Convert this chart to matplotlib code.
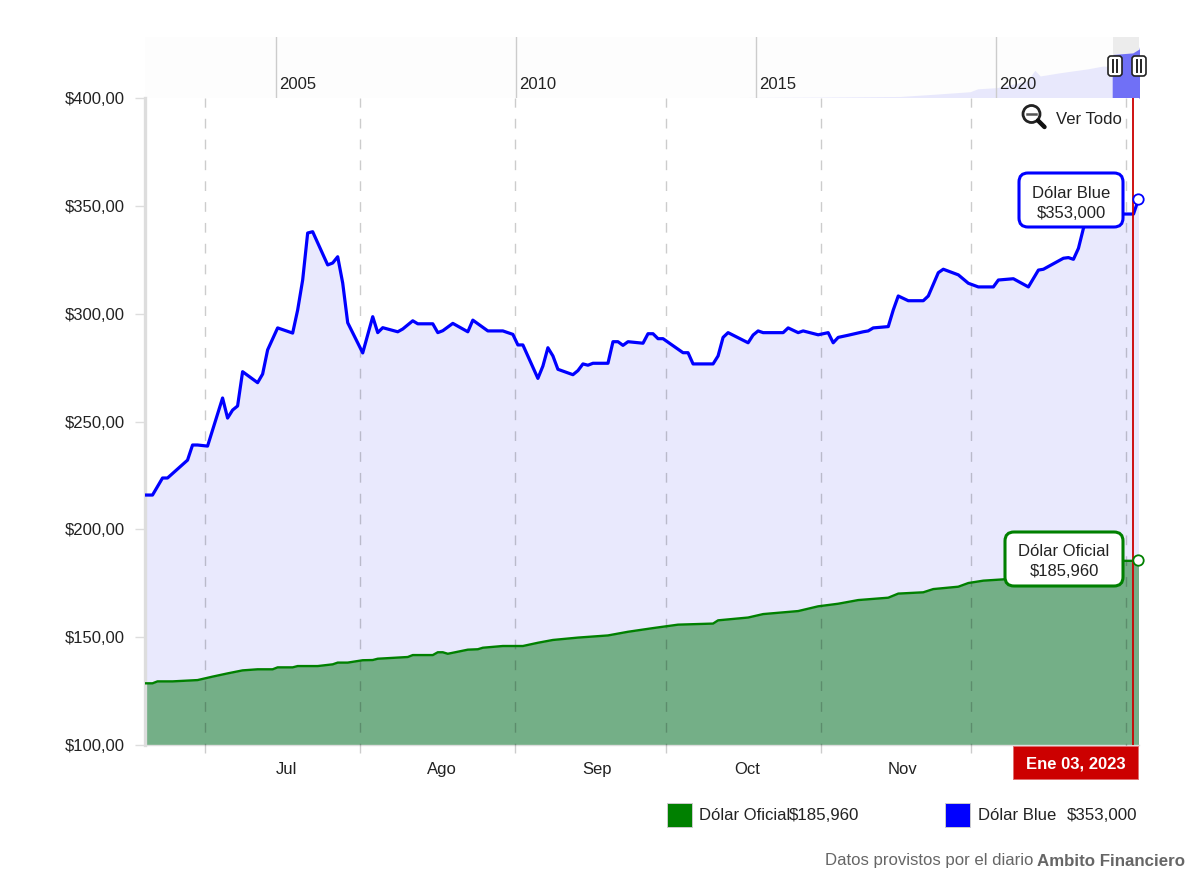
import matplotlib
matplotlib.use("Agg")
import matplotlib.pyplot as plt
import pandas as pd
from matplotlib.patches import FancyBboxPatch, Rectangle, Circle
from matplotlib.transforms import blended_transform_factory

plt.rcParams['font.family'] = ['Liberation Sans', 'DejaVu Sans']

START = pd.Timestamp('2022-06-19')
END_DAYS = 198.6

blue_days = [-0.5,1,3,4,8,9,10,12,15,16,17,18,19,22,23,24,26,29,30,31,32,33,36,37,38,39,40,43,45,46,47,50,51,53,54,56,57,58,59,61,64,65,68,71,73,74,75,78,79,80,81,82,85,86,87,88,89,92,93,94,95,96,99,100,101,102,103,107,108,109,113,114,115,116,120,121,122,123,127,128,130,131,134,136,137,138,140,143,144,145,148,149,150,152,155,156,158,159,162,164,166,169,170,173,176,178,179,183,184,185,186,187,188,190,195,197,198]
blue_values = [215.9,215.9,223.8,223.8,232.1,239.1,239.1,238.6,260.9,251.6,255.3,257.2,273.1,268,272,283.2,293.4,291,301.7,315.6,337.4,338,322.6,323.5,326.4,314.2,295.8,281.8,298.6,291.2,293.5,291.6,292.9,296.7,295.3,295.3,295.3,291.2,292.1,295.5,291.6,297,292,292,290.4,285.5,285.5,270,275.7,284.2,280.4,274.2,271.7,273.6,276.7,276.1,277,277,287,287,285.3,287,286.3,290.7,290.7,288.4,288.4,281.9,281.9,276.7,276.7,280.4,289,291.2,286.5,290.1,292,291.2,291.2,293.4,291.2,292,290.2,291.2,286.5,289,290,291.6,292,293.4,294,301.7,308.2,306,306,308.2,319,320.6,318,314.1,312.4,312.4,315.6,316.2,312.4,320.2,320.6,325.7,326,325.2,330.3,339.6,344,345,346.2,346.2,353]

green_days = [-0.5,1,2,5,10,13,16,19,22,25,26,29,30,34,37,38,40,43,45,46,52,53,57,58,59,60,64,66,67,71,75,78,81,86,92,96,101,106,113,114,120,123,130,134,138,142,148,150,155,157,162,164,167,171,178,186,194,197,198]
green_values = [128.6,128.6,129.5,129.5,130.1,131.7,133.2,134.6,135.1,135.1,136,136,136.6,136.6,137.4,138.2,138.2,139.3,139.4,140,140.8,141.7,141.7,143,143,142.3,144.2,144.4,145.1,145.9,145.9,147.4,148.7,149.8,150.8,152.5,154.2,155.8,156.3,157.8,159.1,160.7,162.1,164.3,165.5,167.2,168.3,170.2,170.8,172.3,173.4,175.1,176.2,176.8,179.5,182.5,185.4,185.4,185.96]

y_ticks = [100,150,200,250,300,350,400]
y_labels = ['$100,00','$150,00','$200,00','$250,00','$300,00','$350,00','$400,00']
month_starts = ['2022-07-01','2022-08-01','2022-09-01','2022-10-01','2022-11-01','2022-12-01','2023-01-01']
month_centres = ['2022-07-17 08:00','2022-08-17 08:00','2022-09-17 08:00','2022-10-17 08:00','2022-11-17 08:00']
month_labels = ['Jul','Ago','Sep','Oct','Nov']

nav_years = [2012.3,2014.5,2016.3,2018.0,2018.69,2019.46,2019.62,2020.02,2020.65,2020.81,2020.92,2021.33,2021.6,2021.9,2022.23,2022.42]
nav_values = [2,3,6,10,24,41,60,68,111,181,144,165,177,190,209,205]
nav_sel_years = [2022.42,2022.44,2022.85,2022.98,2023.0]
nav_sel_values = [205,285,295,320,353]
nav_ticks = [2005,2010,2015,2020]
SEL_START, SEL_END = 2022.42, 2022.98

W, H = 1200, 883
fig = plt.figure(figsize=(W/100, H/100), dpi=100, facecolor='white')
FS = 12
TXT = '#222222'
GREY = '#666666'

def axes_px(l, t, r, b, **kw):
    return fig.add_axes([l/W, 1-b/H, (r-l)/W, (b-t)/H], **kw)

# navigator
nav = axes_px(145, 37, 1139, 98)
nav.set_xlim(2005+(145-276)/48, 2005+(1139-276)/48)
nav.set_ylim(0, 399)
nav.set_facecolor('#fdfdfd')
for s in nav.spines.values():
    s.set_visible(False)
nav.set_xticks([]); nav.set_yticks([])
nav.fill_between(nav_years, nav_values, 0, color='#e8e8fc', lw=0)
nav.axvspan(SEL_START+0.02, SEL_END+0.05, color='#ececec', lw=0)
nav.fill_between(nav_sel_years, nav_sel_values, 0, color='#7070f6', lw=0)
for yr in nav_ticks:
    nav.axvline(yr, color='#cccccc', lw=1.0)
    nav.annotate(str(yr), (yr, 0), xytext=(2.6, 10), textcoords='offset points',
                 fontsize=FS, color=TXT, va='center', ha='left', annotation_clip=False)

# main
ax = axes_px(145, 98, 1139, 745)
x_lo = START
x_hi = START + pd.Timedelta(days=END_DAYS)
ax.set_xlim(x_lo, x_hi)
ax.set_ylim(100, 400)
half = pd.Timedelta(hours=12)
bx = START + pd.to_timedelta(blue_days, unit='D') + half
gx = START + pd.to_timedelta(green_days, unit='D') + half

ax.fill_between(bx, blue_values, 100, color='#e9e9fd', lw=0, zorder=1)
ax.fill_between(gx, green_values, 100, color='#74af87', lw=0, zorder=2)
ax.plot(bx, blue_values, color='#0000ff', lw=2.3, solid_joinstyle='round', zorder=4)
ax.plot(gx, green_values, color='#008000', lw=1.7, solid_joinstyle='round', zorder=4)

trans = blended_transform_factory(ax.transData, ax.transAxes)
for d in month_starts:
    t = pd.Timestamp(d)
    ax.plot([t, t], [-0.012, 1], transform=trans, color='#000000', alpha=0.2, lw=1.0,
            dashes=(7, 8), clip_on=False, zorder=3)

ax.set_yticks(y_ticks)
ax.set_yticklabels(y_labels, fontsize=FS, color=TXT)
ax.tick_params(axis='y', length=7.5, color='#dddddd', width=1, pad=7)
ax.set_xticks([pd.Timestamp(m) for m in month_centres])
ax.set_xticklabels(month_labels, fontsize=FS, color=TXT)
ax.tick_params(axis='x', length=0, pad=12)
for k in ('top', 'right'):
    ax.spines[k].set_visible(False)
ax.spines['left'].set_color('#dddddd'); ax.spines['left'].set_linewidth(2.4)
ax.spines['bottom'].set_color('#dddddd'); ax.spines['bottom'].set_linewidth(1.0)

# crosshair and end markers
cross = START + pd.Timedelta(days=197.4)
ax.plot([cross, cross], [100, 400], color='#cc0000', lw=1.3, zorder=5)
ax.plot(bx[-1], blue_values[-1], 'o', ms=7.5, mfc='white', mec='#0000ff', mew=1.3, clip_on=False, zorder=7)
ax.plot(gx[-1], green_values[-1], 'o', ms=7.5, mfc='white', mec='#008000', mew=1.3, clip_on=False, zorder=7)

# overlay in pixels
ov = fig.add_axes([0, 0, 1, 1], facecolor='none', zorder=10)
ov.set_xlim(0, W); ov.set_ylim(H, 0); ov.axis('off')

def tooltip(l, t, r, b, col, line1, line2):
    ov.add_patch(FancyBboxPatch((l+8, t+8), r-l-16, b-t-16, boxstyle='round,pad=8,rounding_size=9',
                                fc='white', ec=col, lw=2.2))
    cx = (l+r)/2
    ov.text(cx, t+20, line1, ha='center', va='center', fontsize=FS, color=TXT)
    ov.text(cx, t+40, line2, ha='center', va='center', fontsize=FS, color=TXT)

tooltip(1019, 173, 1123, 227, '#0000ff', 'Dólar Blue', '$353,000')
tooltip(1005, 532, 1123, 586, '#008000', 'Dólar Oficial', '$185,960')

# date box
ov.add_patch(Rectangle((1013, 746), 125, 33, fc='#cc0000', ec='#e07070', lw=0.7))
ov.text(1075.5, 764, 'Ene 03, 2023', ha='center', va='center', fontsize=FS, color='white', fontweight='bold')

# navigator handles
for cx in (1115, 1139):
    ov.add_patch(FancyBboxPatch((cx-5, 58), 10, 16, boxstyle='round,pad=2,rounding_size=3',
                                fc='white', ec='#222222', lw=1.2))
    for dx in (-2, 2):
        ov.plot([cx+dx, cx+dx], [60, 72], color='#222222', lw=1.4)

# zoom-out icon
ov.add_patch(Circle((1031.5, 114), 8.5, fc='white', ec='#222222', lw=2.0))
ov.plot([1027, 1036], [114, 114], color='#555555', lw=1.8)
ov.plot([1038, 1044.5], [120.5, 127], color='#111111', lw=3.2, solid_capstyle='round')
ov.text(1056, 119, 'Ver Todo', ha='left', va='center', fontsize=FS, color=TXT)

# legend
ov.add_patch(Rectangle((667, 803), 25, 24, fc='#008000', ec='#cccccc', lw=0.7))
ov.text(699, 816, 'Dólar Oficial', ha='left', va='center', fontsize=FS, color=TXT)
ov.text(789, 816, '$185,960', ha='left', va='center', fontsize=FS+0.2, color=TXT)
ov.add_patch(Rectangle((945, 803), 25, 24, fc='#0000ff', ec='#cccccc', lw=0.7))
ov.text(978, 816, 'Dólar Blue', ha='left', va='center', fontsize=FS, color=TXT)
ov.text(1067, 816, '$353,000', ha='left', va='center', fontsize=FS+0.2, color=TXT)

# footer
ov.text(1185, 861, 'Ambito Financiero', ha='right', va='center', fontsize=FS+0.2, color=GREY, fontweight='bold')
ov.text(1033.5, 861, 'Datos provistos por el diario', ha='right', va='center', fontsize=FS+0.1, color=GREY)

fig.savefig('out.png', dpi=100)
